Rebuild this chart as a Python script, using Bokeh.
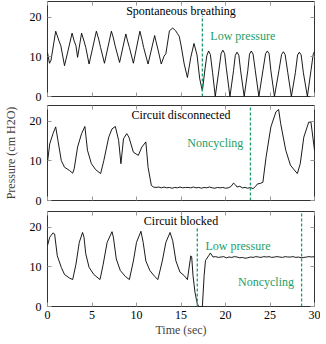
from bokeh.plotting import figure
from bokeh.layouts import column
from bokeh.models import FixedTicker, LinearAxis, Range1d, ColumnDataSource
from bokeh.core.properties import value
from bokeh.embed import file_html
from bokeh.resources import INLINE

# ---------------- data ----------------
x_ticks = [0, 5, 10, 15, 20, 25, 30]
y_ticks = [0, 10, 20]
panel_titles = ["Spontaneous breathing", "Circuit disconnected", "Circuit blocked"]
y_label = "Pressure (cm H2O)"
x_label = "Time (sec)"

# Panel 1: spontaneous breathing
t1 = [0.0, 0.22, 0.4, 0.92, 1.3, 1.5, 1.91, 2.3, 2.76, 3.0, 3.2, 3.38, 3.83, 4.1, 4.3, 4.67,
      5.49, 5.75, 5.96, 6.4, 7.18, 7.4, 7.6, 8.1, 8.8, 9.0, 9.2, 9.65, 10.38, 10.6, 10.8, 11.3,
      12.04, 12.2, 12.4, 12.78, 13.1, 13.3, 13.7, 14.07, 14.4, 14.6, 14.8, 15.0, 15.36, 15.72,
      16.1, 16.46, 16.8, 17.1, 17.4, 17.7, 17.9, 18.1, 18.3, 18.55, 18.85,
      19.25, 19.5, 19.7, 19.9, 20.1, 20.5,
      20.9, 21.1, 21.3, 21.5, 21.7, 22.1,
      22.5, 22.7, 22.9, 23.1, 23.35, 23.75,
      24.2, 24.5, 24.7, 24.9, 25.1, 25.5,
      26.0, 26.3, 26.5, 26.7, 27.0, 27.4,
      27.85, 28.1, 28.3, 28.5, 28.75, 29.2,
      29.6, 29.85, 30.0]
p1 = [11.1, 8.4, 9.2, 16.5, 14.0, 12.8, 7.8, 11.5, 16.0, 14.0, 12.8, 9.9, 16.0, 14.0, 12.4, 8.2,
      16.5, 14.5, 12.4, 8.4, 16.5, 14.8, 12.8, 8.6, 15.8, 14.0, 12.4, 8.4, 16.5, 14.5, 12.4, 8.2,
      15.4, 13.8, 12.0, 8.2, 10.2, 10.8, 16.6, 17.3, 16.6, 15.9, 15.2, 13.0, 8.2, 4.8,
      9.9, 13.4, 10.5, 4.5, 1.4, 7.0, 10.3, 11.5, 10.6, 6.0, 0.0,
      6.5, 10.8, 11.7, 10.9, 7.0, 0.0,
      6.5, 10.4, 11.2, 10.4, 6.5, 0.0,
      6.5, 10.7, 11.5, 10.7, 6.5, 0.0,
      6.5, 10.8, 11.5, 10.8, 6.5, 0.0,
      6.5, 10.6, 11.3, 10.6, 6.0, 0.0,
      6.0, 10.5, 11.2, 10.5, 6.0, 0.0,
      6.5, 10.6, 11.4]

# Panel 2: circuit disconnected
t2 = [0.0, 0.25, 0.62, 0.92, 1.17, 1.55, 1.91, 2.46, 2.83, 3.0, 3.38, 3.83, 4.2, 4.49, 4.93,
      5.41, 5.97, 6.33, 6.88, 7.25, 7.62, 7.99, 8.25, 8.54, 8.9, 9.15, 9.65, 10.2, 10.6, 11.05,
      11.3, 11.67, 11.9, 12.2, 12.5, 12.8, 13.1, 13.4, 13.7, 14.0, 14.3, 14.6, 14.9, 15.2, 15.5,
      15.8, 16.1, 16.4, 16.7, 17.0, 17.3, 17.6, 17.9, 18.2, 18.5, 18.8, 19.1, 19.4, 19.7, 20.0,
      20.3, 20.6, 20.9, 21.1, 21.3, 21.6, 21.9, 22.2, 22.5, 22.8, 23.1, 23.35, 23.6, 23.9, 24.2,
      24.56, 25.1, 25.67, 25.97, 26.2, 26.77, 27.3, 28.07, 28.4, 28.8, 29.35, 29.6, 30.0]
p2 = [9.7, 14.3, 16.9, 18.6, 15.2, 10.1, 8.4, 7.6, 6.9, 8.0, 13.5, 16.9, 18.7, 12.7, 9.3,
      7.8, 6.8, 10.1, 16.0, 18.1, 18.7, 15.2, 9.3, 15.6, 16.9, 16.0, 12.2, 11.4, 13.5, 14.8,
      8.4, 3.8, 3.4, 3.3, 3.4, 3.2, 3.4, 3.2, 3.3, 3.1, 3.3, 3.2, 3.4, 3.2, 3.3,
      3.3, 3.2, 3.4, 3.2, 3.3, 3.1, 3.3, 3.2, 3.4, 3.2, 3.1, 3.3, 3.2, 3.3, 3.1,
      3.2, 3.5, 4.4, 4.0, 3.4, 3.6, 3.2, 3.3, 3.1, 3.3, 3.0, 3.5, 4.2, 4.3, 4.6,
      11.0, 18.6, 22.4, 23.0, 19.4, 12.7, 8.9, 6.8, 9.3, 16.0, 19.8, 19.8, 12.7]

# Panel 3: circuit blocked
t3 = [0.0, 0.25, 0.62, 0.8, 1.1, 1.55, 1.91, 2.46, 2.83, 3.2, 3.57, 3.94, 4.1, 4.3, 4.67, 5.2,
      5.9, 6.26, 6.7, 7.25, 7.4, 7.73, 8.18, 8.74, 9.2, 9.65, 10.0, 10.5, 10.75, 11.05, 11.5,
      12.04, 12.4, 12.9, 13.3, 13.77, 14.07, 14.43, 14.88, 15.36, 15.72, 16.1, 16.2, 16.35,
      16.57, 16.83, 17.0, 17.4, 17.6, 17.75, 18.1, 18.3, 18.6, 18.9, 19.2, 19.5, 19.8, 20.1,
      20.4, 20.7, 21.0, 21.3, 21.6, 21.9, 22.2, 22.5, 22.8, 23.1, 23.4, 23.7, 24.0, 24.3, 24.6,
      24.9, 25.2, 25.5, 25.8, 26.1, 26.4, 26.7, 27.0, 27.3, 27.6, 27.9, 28.2, 28.5, 28.8, 29.1,
      29.4, 29.7, 30.0]
p3 = [15.4, 17.5, 18.6, 18.3, 12.8, 9.9, 8.1, 7.2, 6.8, 10.7, 16.2, 18.7, 17.5, 13.3, 9.9, 8.1,
      6.8, 10.7, 16.2, 18.9, 17.5, 12.0, 9.1, 7.6, 6.8, 11.5, 16.2, 19.0, 16.2, 11.5, 9.1,
      7.6, 6.8, 11.5, 16.2, 18.7, 16.6, 11.5, 8.7, 7.8, 6.8, 12.8, 12.6, 7.8,
      3.6, 0.7, 0.0, 0.0, 7.8, 11.6, 12.8, 13.5, 12.5, 12.6, 12.4, 12.5, 12.6, 12.3,
      12.5, 12.4, 12.6, 12.5, 12.3, 12.4, 12.2, 12.3, 12.5, 12.4, 12.6, 12.5, 12.4, 12.6, 12.5,
      12.6, 12.4, 12.5, 12.6, 12.5, 12.4, 12.6, 12.5, 12.5, 12.6, 12.4, 12.5, 12.3, 12.4, 12.5,
      12.6, 12.5, 12.6]

# event markers (dashed green) : x position, y extent
ev1_x, ev1_y0, ev1_y1 = [17.4], [0], [20.4]
ev2_x, ev2_y0, ev2_y1 = [22.8], [0], [24]
ev3_x, ev3_y0, ev3_y1 = [16.83, 28.55], [0, 0], [20.1, 24]

# annotations
ann1 = {"x": [18.3], "y": [15.4], "text": ["Low pressure"]}
ann2 = {"x": [22.0], "y": [14.6], "text": ["Noncycling"]}
ann3a = {"x": [17.75], "y": [15.2], "text": ["Low pressure"]}
ann3b = {"x": [27.7], "y": [6.3], "text": ["Noncycling"]}

# ---------------- styling ----------------
FONT = "Liberation Serif"
GREEN = "#1c9e68"
FRAME_W = 271
FRAME_H = 95
LEFT = 43
RIGHT = 6


def hidden_axis(ticks):
    return LinearAxis(ticker=FixedTicker(ticks=ticks), axis_line_color=None,
                      major_tick_in=4, major_tick_out=0, major_tick_line_color="#999999",
                      minor_tick_line_color=None,
                      major_label_overrides={t: "" for t in ticks},
                      major_label_text_font_size="1px", major_label_standoff=0)


def make_panel(t, pr, title, top, bottom, show_xlabels=False, ylabel=None):
    p = figure(width=LEFT + FRAME_W + RIGHT, height=top + FRAME_H + bottom,
               x_range=Range1d(0, 30), y_range=Range1d(0, 24),
               output_backend="svg", toolbar_location=None,
               x_axis_location=None, y_axis_location=None,
               min_border_left=LEFT, min_border_right=RIGHT,
               min_border_top=top, min_border_bottom=bottom)
    p.background_fill_color = "white"
    p.border_fill_color = "white"
    p.outline_line_color = "#333333"
    p.outline_line_width = 1
    p.xgrid.grid_line_color = None
    p.ygrid.grid_line_color = None

    if show_xlabels:
        xa = LinearAxis(ticker=FixedTicker(ticks=x_ticks), axis_line_color=None,
                        major_tick_in=4, major_tick_out=0, major_tick_line_color="#999999",
                        minor_tick_line_color=None, major_label_text_font=FONT,
                        major_label_text_font_size="12px", major_label_text_color="black",
                        major_label_standoff=4, axis_label=x_label, axis_label_text_font=FONT,
                        axis_label_text_font_size="12px", axis_label_text_font_style="normal",
                        axis_label_standoff=1)
    else:
        xa = hidden_axis(x_ticks)
    p.add_layout(xa, "below")

    ya = LinearAxis(ticker=FixedTicker(ticks=y_ticks), axis_line_color=None,
                    major_tick_in=4, major_tick_out=0, major_tick_line_color="#999999",
                    minor_tick_line_color=None, major_label_text_font=FONT,
                    major_label_text_font_size="12px", major_label_text_color="black",
                    major_label_standoff=6)
    if ylabel:
        ya.axis_label = ylabel
        ya.axis_label_text_font = FONT
        ya.axis_label_text_font_size = "12px"
        ya.axis_label_text_font_style = "normal"
        ya.axis_label_standoff = 9
    p.add_layout(ya, "left")

    p.add_layout(hidden_axis(x_ticks), "above")
    p.add_layout(hidden_axis(y_ticks), "right")

    p.line(t, pr, line_color="black", line_width=0.9)
    p.text(x=[15], y=[21.6], text=[title], text_align="center", text_baseline="middle",
           text_font=value(FONT), text_font_size="12px", text_color="black")
    return p


p_1 = make_panel(t1, p1, panel_titles[0], top=1, bottom=7)
p_2 = make_panel(t2, p2, panel_titles[1], top=2, bottom=7, ylabel=y_label)
p_3 = make_panel(t3, p3, panel_titles[2], top=4, bottom=38, show_xlabels=True)

for p, (xs, y0s, y1s) in zip([p_1, p_2, p_3],
                             [(ev1_x, ev1_y0, ev1_y1), (ev2_x, ev2_y0, ev2_y1),
                              (ev3_x, ev3_y0, ev3_y1)]):
    p.segment(x0=xs, y0=y0s, x1=xs, y1=y1s, line_color=GREEN, line_width=1.3,
              line_dash="3 2")


def green_text(p, src, align):
    p.text(x="x", y="y", text="text", source=ColumnDataSource(src), text_align=align,
           text_baseline="middle", text_font=value(FONT), text_font_size="12px",
           text_color=GREEN)


green_text(p_1, ann1, "left")
green_text(p_2, ann2, "right")
green_text(p_3, ann3a, "left")
green_text(p_3, ann3b, "right")

layout = column(p_1, p_2, p_3, spacing=0)

open("out.html", "w").write(file_html(layout, INLINE))
